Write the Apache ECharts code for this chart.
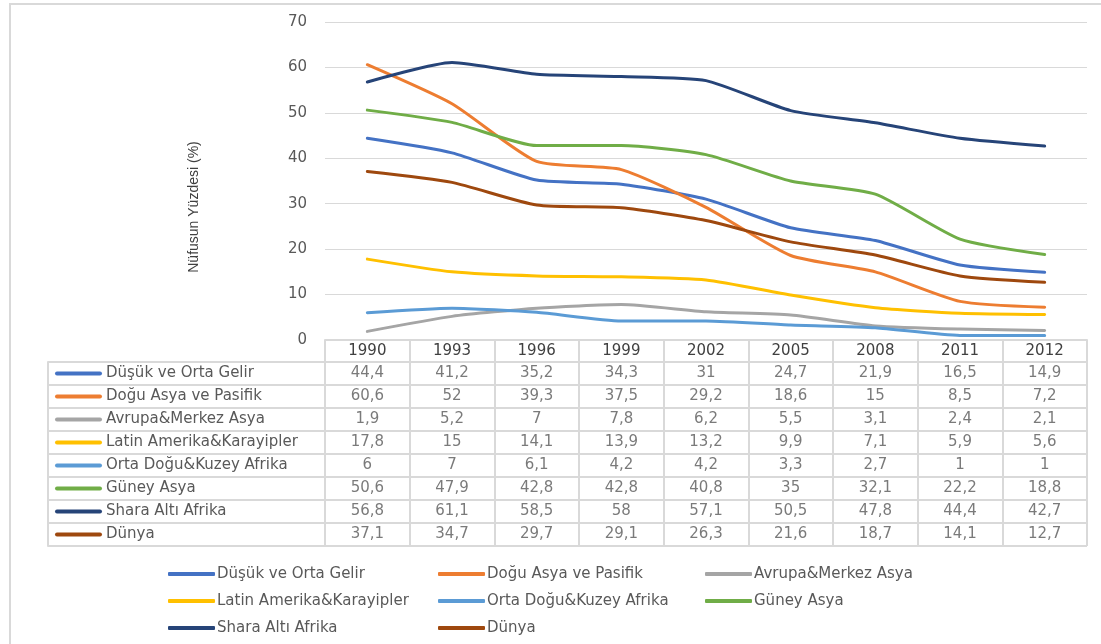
<!DOCTYPE html>
<html><head><meta charset="utf-8">
<script src="https://cdn.jsdelivr.net/npm/echarts@6/dist/echarts.min.js"></script>
<style>html,body{margin:0;padding:0;background:#fff}#c{width:1101px;height:644px}</style>
</head><body><div id="c"></div>
<script>
// ---- data ----
const years = ['1990','1993','1996','1999','2002','2005','2008','2011','2012'];
const seriesNames = ['Düşük ve Orta Gelir','Doğu Asya ve Pasifik','Avrupa&Merkez Asya','Latin Amerika&Karayipler','Orta Doğu&Kuzey Afrika','Güney Asya','Shara Altı Afrika','Dünya'];
const dusukOrtaGelir   = [44.4, 41.2, 35.2, 34.3, 31, 24.7, 21.9, 16.5, 14.9];
const doguAsyaPasifik  = [60.6, 52, 39.3, 37.5, 29.2, 18.6, 15, 8.5, 7.2];
const avrupaMerkezAsya = [1.9, 5.2, 7, 7.8, 6.2, 5.5, 3.1, 2.4, 2.1];
const latinAmerika     = [17.8, 15, 14.1, 13.9, 13.2, 9.9, 7.1, 5.9, 5.6];
const ortaDoguAfrika   = [6, 7, 6.1, 4.2, 4.2, 3.3, 2.7, 1, 1];
const guneyAsya        = [50.6, 47.9, 42.8, 42.8, 40.8, 35, 32.1, 22.2, 18.8];
const sharaAltiAfrika  = [56.8, 61.1, 58.5, 58, 57.1, 50.5, 47.8, 44.4, 42.7];
const dunya            = [37.1, 34.7, 29.7, 29.1, 26.3, 21.6, 18.7, 14.1, 12.7];
const yMin = 0, yMax = 70, yStep = 10;
const yTitle = 'Nüfusun Yüzdesi (%)';

// ---- styles ----
const allValues = [dusukOrtaGelir, doguAsyaPasifik, avrupaMerkezAsya, latinAmerika, ortaDoguAfrika, guneyAsya, sharaAltiAfrika, dunya];
const colors = ['#4472C4','#ED7D31','#A5A5A5','#FFC000','#5B9BD5','#70AD47','#264478','#9E480E'];
const FONT = 'DejaVu Sans';
const TXT = '#595959';
const LINE = '#d9d9d9';

const chart = echarts.init(document.getElementById('c'), null, {renderer: 'canvas'});

const lineSeries = seriesNames.map((n, i) => ({
  name: n, type: 'line', xAxisIndex: 0, yAxisIndex: 0,
  data: allValues[i], color: colors[i],
  smooth: 0.2, showSymbol: false, symbol: 'none',
  lineStyle: {width: 3, color: colors[i], cap: 'round', join: 'round'},
  emphasis: {disabled: true}, z: 3
}));

const tableData = [];
seriesNames.forEach((n, i) => years.forEach((y, j) => tableData.push([y, n, allValues[i][j]])));

const rich = {t: {fontFamily: FONT, fontSize: 15, color: TXT, padding: [0, 0, 0, 4]}};
colors.forEach((c, i) => { rich['i' + i] = {width: 47, height: 4, backgroundColor: c, borderRadius: 2}; });

const legendBase = {
  orient: 'vertical', top: 560, icon: 'roundRect', itemWidth: 47, itemHeight: 4, itemGap: 9,
  textStyle: {fontFamily: FONT, fontSize: 15, color: TXT, lineHeight: 18, padding: [0, 0, 0, -3]},
  selectedMode: false
};

chart.setOption({
  animation: false,
  textStyle: {fontFamily: FONT},
  grid: [
    {left: 325, right: 14, top: 22, bottom: 304},
    {left: 325, right: 14, top: 362, bottom: 98}
  ],
  legend: [
    Object.assign({left: 163, data: [seriesNames[0], seriesNames[3], seriesNames[6]]}, legendBase),
    Object.assign({left: 433, data: [seriesNames[1], seriesNames[4], seriesNames[7]]}, legendBase),
    Object.assign({left: 700, data: [seriesNames[2], seriesNames[5]]}, legendBase)
  ],
  xAxis: [
    {gridIndex: 0, type: 'category', data: years, boundaryGap: true,
     axisLine: {show: true, lineStyle: {color: LINE, width: 2}},
     axisTick: {show: true, interval: 0, length: 22, lineStyle: {color: LINE, width: 2}},
     axisLabel: {interval: 0, margin: 4, fontSize: 15, lineHeight: 15, color: '#404040'},
     splitLine: {show: false}},
    {gridIndex: 1, type: 'category', data: years, boundaryGap: true,
     axisLine: {show: false}, axisTick: {show: false}, axisLabel: {show: false},
     splitLine: {show: true, interval: 0, lineStyle: {color: LINE, width: 2}}}
  ],
  yAxis: [
    {gridIndex: 0, type: 'value', min: yMin, max: yMax, interval: yStep,
     axisLine: {show: false}, axisTick: {show: false},
     axisLabel: {margin: 18, fontSize: 15, color: TXT},
     splitLine: {show: true, lineStyle: {color: LINE, width: 1}}},
    {gridIndex: 1, type: 'category', data: seriesNames, inverse: true, boundaryGap: true,
     axisLine: {show: true, lineStyle: {color: LINE, width: 2}},
     axisTick: {show: true, interval: 0, length: 277, lineStyle: {color: LINE, width: 2}},
     axisLabel: {interval: 0, align: 'left', margin: 270,
       formatter: (v, i) => '{i' + i + '|}{t|' + v + '}', rich: rich},
     splitLine: {show: true, interval: 0, lineStyle: {color: LINE, width: 2}}},
    {gridIndex: 1, type: 'category', data: seriesNames, inverse: true, position: 'left', offset: 277,
     axisLine: {show: true, lineStyle: {color: LINE, width: 2}},
     axisTick: {show: false}, axisLabel: {show: false}, splitLine: {show: false}}
  ],
  series: lineSeries.concat([{
    name: 'tablo', type: 'scatter', xAxisIndex: 1, yAxisIndex: 1,
    data: tableData, symbolSize: 1, itemStyle: {color: 'rgba(0,0,0,0)'},
    label: {show: true, position: 'inside', fontSize: 15, color: TXT,
      formatter: p => String(p.value[2]).replace('.', ',')},
    emphasis: {disabled: true}, silent: true
  }]),
  graphic: [
    {type: 'rect', shape: {x: 10, y: 4, width: 1200, height: 800}, style: {fill: 'none', stroke: LINE, lineWidth: 2}, silent: true},
    {type: 'text', x: 194, y: 207, rotation: Math.PI / 2,
     style: {text: yTitle, fontFamily: 'Liberation Sans', fontSize: 14, fill: '#404040', align: 'center', verticalAlign: 'middle'}}
  ]
});
</script>
</body></html>
